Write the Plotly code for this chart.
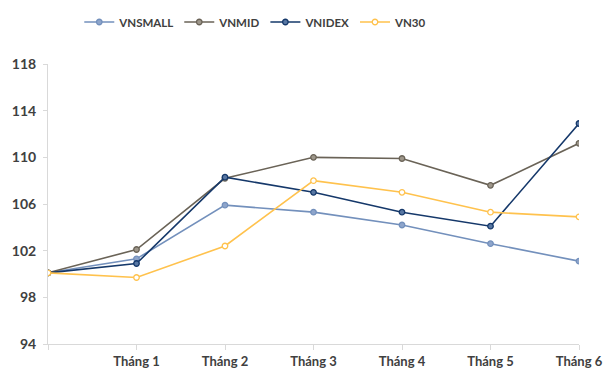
import plotly.graph_objects as go

categories = ["", "Tháng 1", "Tháng 2", "Tháng 3", "Tháng 4", "Tháng 5", "Tháng 6"]
vnsmall = [100.1, 101.3, 105.9, 105.3, 104.2, 102.6, 101.1]
vnmid = [100.1, 102.1, 108.2, 110.0, 109.9, 107.6, 111.2]
vnindex = [100.1, 100.9, 108.3, 107.0, 105.3, 104.1, 112.9]
vn30 = [100.1, 99.7, 102.4, 108.0, 107.0, 105.3, 104.9]
y_ticks = [94, 98, 102, 106, 110, 114, 118]

series = [
    ("VNSMALL", vnsmall, "#7390BC", "#8EA5CB"),
    ("VNMID", vnmid, "#6A6357", "#9E978B"),
    ("VNIDEX", vnindex, "#15386A", "#5877A3"),
    ("VN30", vn30, "#FFC24D", "#FFFFFF"),
]

xs = list(range(len(categories)))
fig = go.Figure()
for name, vals, color, fill in series:
    fig.add_trace(go.Scatter(
        x=xs, y=vals, name=name, mode="lines+markers",
        line=dict(color=color, width=1.6),
        marker=dict(symbol="circle", size=5.5, color=fill,
                    line=dict(color=color, width=1.3)),
    ))

fig.update_layout(
    width=609, height=371,
    margin=dict(l=48, r=30, t=64, b=27, autoexpand=False),
    plot_bgcolor="white", paper_bgcolor="white",
    font=dict(family="Lato, 'Open Sans', sans-serif", color="#404040"),
    showlegend=True,
    legend=dict(orientation="h", x=0.42, xref="container", xanchor="center",
                y=1 - 22 / 371, yref="container", yanchor="middle",
                font=dict(size=11.5, color="#404040", weight="bold"),
                itemwidth=30, tracegroupgap=0),
    xaxis=dict(range=[0, 6], tickmode="array", tickvals=xs, ticktext=categories,
               showline=True, linecolor="#D9D9D9", linewidth=1,
               ticks="outside", ticklen=5, tickcolor="#D9D9D9",
               showgrid=False, zeroline=False,
               tickfont=dict(size=13, color="#404040", weight="bold")),
    yaxis=dict(range=[94, 118], tickmode="array", tickvals=y_ticks,
               showline=True, linecolor="#D9D9D9", linewidth=1,
               ticks="outside", ticklen=4, tickcolor="#D9D9D9",
               ticklabelstandoff=4,
               showgrid=False, zeroline=False,
               tickfont=dict(size=14, color="#404040", weight="bold")),
)

fig.write_html("out.html")
